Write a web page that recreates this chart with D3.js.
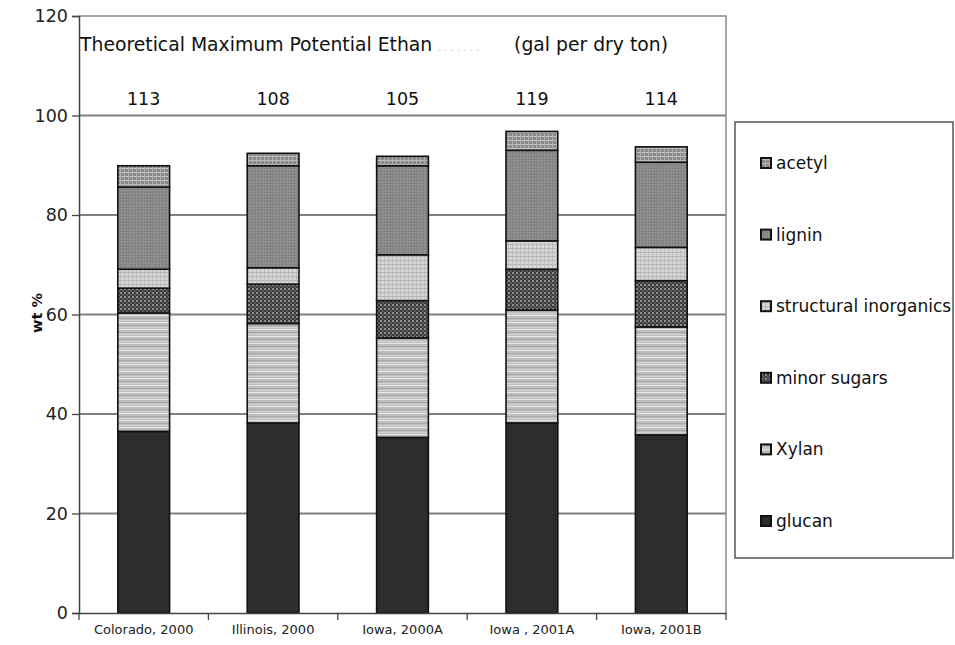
<!DOCTYPE html>
<html><head><meta charset="utf-8">
<script src="https://cdn.jsdelivr.net/npm/d3@7"></script>
<style>body{margin:0;background:#fff}svg{display:block}text{font-family:"DejaVu Sans",sans-serif}</style>
</head><body><svg id="c" width="955" height="645"></svg>
<script>
const categories = ["Colorado, 2000","Illinois, 2000","Iowa, 2000A","Iowa , 2001A","Iowa, 2001B"];
const yields = [113,108,105,119,114];
const glucan = [36.5,38.2,35.3,38.2,35.8];
const xylan = [23.8,20.0,20.0,22.7,21.7];
const minorSugars = [5.0,7.9,7.5,8.2,9.3];
const structInorg = [3.8,3.3,9.2,5.7,6.7];
const lignin = [16.5,20.5,17.9,18.2,17.1];
const acetyl = [4.3,2.5,1.9,3.8,3.1];
const seriesNames = ["glucan","Xylan","minor sugars","structural inorganics","lignin","acetyl"];
const seriesVals = [glucan,xylan,minorSugars,structInorg,lignin,acetyl];
const yTicks = [0,20,40,60,80,100,120];
const titleLeft = "Theoretical Maximum Potential Ethan";
const titleHidden = ". .   . . . . .";
const titleRight = "(gal per dry ton)";

const svg = d3.select("#c");
const defs = svg.append("defs");
function pat(id, w, h, bg, shapes){
  const p = defs.append("pattern").attr("id",id).attr("patternUnits","userSpaceOnUse").attr("width",w).attr("height",h);
  p.append("rect").attr("width",w).attr("height",h).attr("fill",bg);
  shapes.forEach(s=>p.append("rect").attr("x",s[0]).attr("y",s[1]).attr("width",s[2]).attr("height",s[3]).attr("fill",s[4]));
}
pat("p0",4,4,"#2a2a2a",[[0,0,1,1,"#3e3e3e"],[2,2,1,1,"#3e3e3e"]]);
pat("p1",6,7,"#bdbdbd",[[0,0,6,1,"#e8e8e8"],[0,3,6,1,"#a8a8a8"],[0,5,6,1,"#d2d2d2"]]);
pat("p2",4,4,"#3c3c3c",[[0,0,2,2,"#8e8e8e"],[2,2,2,2,"#5a5a5a"]]);
pat("p3",4,4,"#d6d6d6",[[0,0,4,1,"#b5b5b5"],[0,0,1,4,"#bcbcbc"]]);
pat("p4",3,3,"#898989",[[0,0,1,1,"#767676"],[1,1,1,1,"#9a9a9a"]]);
pat("p5",4,4,"#8a8a8a",[[0,0,4,1,"#c2c2c2"],[0,0,1,4,"#b0b0b0"]]);

const x0 = 79, x1 = 726, yTop = 16, yBot = 613;
const x = d3.scaleBand().domain(categories).range([x0,x1]).padding(0);
const y = d3.scaleLinear().domain([0,120]).range([yBot,yTop]);
const step = x.bandwidth();

// gridlines
svg.append("g").selectAll("line").data(yTicks.filter(t=>t>0 && t<120)).join("line")
  .attr("x1",x0).attr("x2",x1).attr("y1",d=>y(d)).attr("y2",d=>y(d))
  .attr("stroke","#808080").attr("stroke-width",1.8);
// frame top/right
svg.append("path").attr("d",`M${x0},${y(120)}H${x1}V${yBot}`).attr("fill","none").attr("stroke","#8a8a8a").attr("stroke-width",1.5);

// stacked bars
const rows = categories.map((c,i)=>{const o={cat:c}; seriesNames.forEach((s,j)=>o[s]=seriesVals[j][i]); return o;});
const stack = d3.stack().keys(seriesNames)(rows);
stack.forEach((layer,j)=>{
  svg.append("g").selectAll("rect").data(layer).join("rect")
    .attr("x",d=>x(d.data.cat)+step*0.3).attr("width",step*0.4)
    .attr("y",d=>y(d[1])).attr("height",d=>y(d[0])-y(d[1]))
    .attr("fill",`url(#p${j})`).attr("stroke","#111").attr("stroke-width",1.6);
});

// y axis
const ya = svg.append("g").attr("transform",`translate(${x0},0)`)
  .call(d3.axisLeft(y).tickValues(yTicks).tickSize(7).tickPadding(4));
ya.select(".domain").attr("stroke","#444").attr("stroke-width",1.5);
ya.selectAll(".tick line").attr("stroke","#444").attr("stroke-width",1.3);
ya.selectAll(".tick text").attr("font-size",17.5).attr("fill","#222").attr("font-family","DejaVu Sans");

// x axis
const xa = svg.append("g").attr("transform",`translate(0,${yBot})`)
  .call(d3.axisBottom(x).tickSize(0).tickPadding(12));
xa.select(".domain").attr("stroke","#444").attr("stroke-width",1.5);
xa.selectAll(".tick text").attr("font-size",13).attr("fill","#222").attr("font-family","DejaVu Sans");
svg.append("g").selectAll("line").data(d3.range(categories.length+1)).join("line")
  .attr("x1",i=>x0+i*step).attr("x2",i=>x0+i*step).attr("y1",yBot).attr("y2",yBot+7)
  .attr("stroke","#444").attr("stroke-width",1.3);

// y label
svg.append("text").attr("transform","translate(42,313) rotate(-90)").attr("text-anchor","middle")
  .attr("font-size",14.5).attr("font-weight","bold").attr("fill","#111").text("wt %");

// title
svg.append("text").attr("x",80).attr("y",51).attr("font-size",18.8).attr("fill","#111").text(titleLeft);
svg.append("text").attr("x",438).attr("y",51).attr("font-size",10).attr("fill","#c8c8c8").text(titleHidden);
svg.append("text").attr("x",668).attr("y",51).attr("text-anchor","end").attr("font-size",18.8).attr("fill","#111").text(titleRight);

// yields
svg.append("g").selectAll("text").data(yields).join("text")
  .attr("x",(d,i)=>x(categories[i])+step/2).attr("y",105).attr("text-anchor","middle")
  .attr("font-size",17.5).attr("fill","#111").text(d=>d);

// legend
svg.append("rect").attr("x",735).attr("y",122).attr("width",218).attr("height",436)
  .attr("fill","#fff").attr("stroke","#555").attr("stroke-width",1.5);
const legOrder = d3.range(seriesNames.length).reverse();
const ly = d3.scalePoint().domain(legOrder).range([163,521]);
const lg = svg.append("g").selectAll("g").data(legOrder).join("g").attr("transform",j=>`translate(761,${ly(j)})`);
lg.append("rect").attr("x",0).attr("y",-5).attr("width",10).attr("height",10)
  .attr("fill",j=>`url(#p${j})`).attr("stroke","#111").attr("stroke-width",2);
lg.append("text").attr("x",15).attr("y",6).attr("font-size",17).attr("fill","#111").text(j=>seriesNames[j]);
</script></body></html>
